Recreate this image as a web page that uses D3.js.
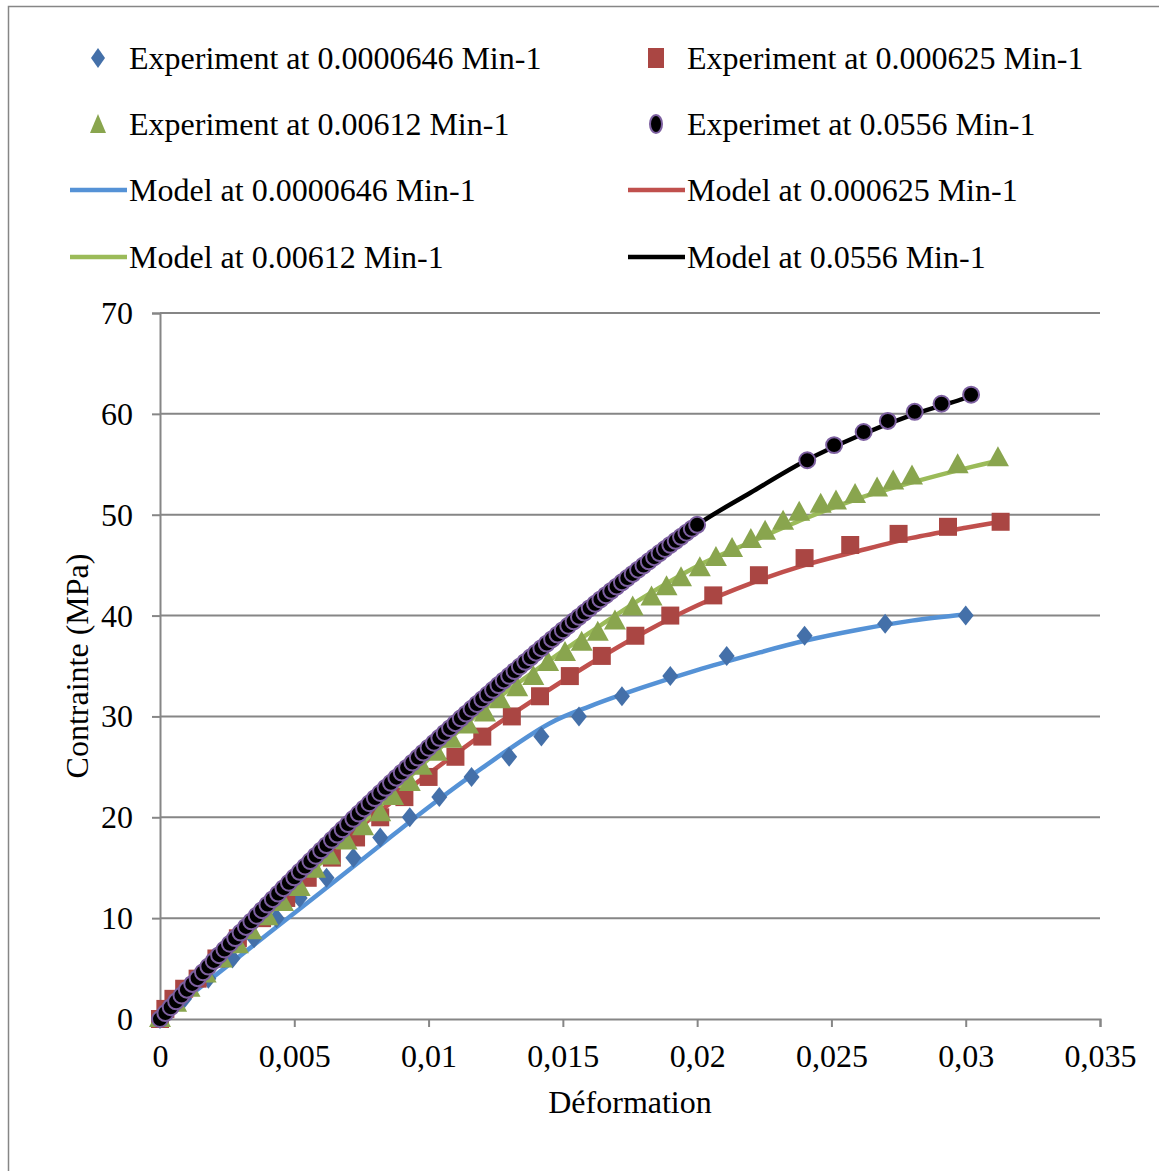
<!DOCTYPE html>
<html><head><meta charset="utf-8">
<script src="https://cdn.jsdelivr.net/npm/d3@7"></script>
<style>
html,body{margin:0;padding:0;background:#fff;}
text{font-family:"Liberation Serif","Times New Roman",serif;fill:#000;}
</style></head>
<body><svg id="c" width="1159" height="1171"></svg>
<script>
// ---------- data ----------
const xTicks = [0,0.005,0.01,0.015,0.02,0.025,0.03,0.035];
const xTickLabels = ["0","0,005","0,01","0,015","0,02","0,025","0,03","0,035"];
const yTicks = [0,10,20,30,40,50,60,70];
const yTickLabels = ["0","10","20","30","40","50","60","70"];

// Experiment at 0.0000646 Min-1
const exp1Strain = [0,0.0009,0.0018,0.0027,0.0035,0.00434,0.0052,0.0062,0.0072,0.0082,0.0093,0.0104,0.0116,0.013,0.0142,0.0156,0.0172,0.019,0.0211,0.024,0.027,0.030];
const exp1Stress = [0,2,4,6,8,10,12,14,16,18,20,22,24,26,28,30,32,34,36,38,39.2,40];
// Experiment at 0.000625 Min-1
const exp2Strain = [0,0.0002,0.0005,0.0009,0.0014,0.0021,0.0029,0.0038,0.0047,0.0055,0.0064,0.0073,0.0082,0.0091,0.01,0.011,0.012,0.0131,0.01415,0.01526,0.01645,0.0177,0.019,0.0206,0.0223,0.024,0.0257,0.0275,0.02934,0.0313];
const exp2Stress = [0,1,2,3,4,6,8,10,12,14,16,18,20,22,24,26,28,30,32,34,36,38,40,42,44,45.7,47.0,48.1,48.8,49.3];
// Experiment at 0.00612 Min-1
const exp3Strain = [0,0.0006,0.0011,0.0017,0.0023,0.0029,0.0034,0.0040,0.00458,0.0052,0.00577,0.00633,0.00695,0.00756,0.0082,0.00868,0.0093,0.00974,0.0103,0.01086,0.01147,0.0121,0.01266,0.0133,0.0139,0.01445,0.01508,0.0157,0.0163,0.01694,0.0176,0.0183,0.01886,0.0194,0.0201,0.0207,0.0213,0.0220,0.02253,0.0232,0.0238,0.0246,0.02517,0.02588,0.0267,0.0273,0.0280,0.0297,0.0312];
const exp3Stress = [0,1.5,3.0,4.4,5.9,7.3,8.7,10.1,11.5,13.0,14.8,16.1,17.6,19.0,20.4,22.0,23.4,25.0,26.4,27.7,29.1,30.3,31.6,32.8,33.9,35.3,36.3,37.3,38.3,39.4,40.8,41.8,42.8,43.7,44.7,45.7,46.6,47.5,48.3,49.3,50.2,51.0,51.3,51.95,52.6,53.3,53.8,54.9,55.6];
// Experimet at 0.0556 Min-1
const exp4Strain = [0,0.0002,0.0004,0.0006,0.0008,0.001,0.0012,0.0014,0.0016,0.0018,0.002,0.0022,0.0024,0.0026,0.0028,0.003,0.0032,0.0034,0.0036,0.0038,0.004,0.0042,0.0044,0.0046,0.0048,0.005,0.0052,0.0054,0.0056,0.0058,0.006,0.0062,0.0064,0.0066,0.0068,0.007,0.0072,0.0074,0.0076,0.0078,0.008,0.0082,0.0084,0.0086,0.0088,0.009,0.0092,0.0094,0.0096,0.0098,0.01,0.0102,0.0104,0.0106,0.0108,0.011,0.0112,0.0114,0.0116,0.0118,0.012,0.0122,0.0124,0.0126,0.0128,0.013,0.0132,0.0134,0.0136,0.0138,0.014,0.0142,0.0144,0.0146,0.0148,0.015,0.0152,0.0154,0.0156,0.0158,0.016,0.0162,0.0164,0.0166,0.0168,0.017,0.0172,0.0174,0.0176,0.0178,0.018,0.0182,0.0184,0.0186,0.0188,0.019,0.0192,0.0194,0.0196,0.0198,0.020,0.0241,0.0251,0.0262,0.0271,0.0281,0.0291,0.0302];
const exp4Stress = [0,0.59,1.17,1.75,2.33,2.91,3.48,4.05,4.63,5.20,5.76,6.33,6.89,7.46,8.02,8.57,9.13,9.68,10.24,10.79,11.34,11.88,12.43,12.97,13.51,14.05,14.59,15.12,15.66,16.19,16.72,17.24,17.77,18.29,18.81,19.33,19.85,20.37,20.88,21.39,21.90,22.41,22.92,23.42,23.93,24.43,24.92,25.42,25.92,26.41,26.90,27.39,27.88,28.36,28.84,29.33,29.81,30.28,30.76,31.23,31.70,32.17,32.64,33.11,33.57,34.03,34.49,34.95,35.41,35.86,36.32,36.77,37.22,37.66,38.11,38.55,38.99,39.43,39.87,40.30,40.74,41.17,41.60,42.02,42.45,42.87,43.30,43.72,44.13,44.55,44.96,45.38,45.79,46.20,46.60,47.01,47.41,47.81,48.21,48.61,49.0,55.4,56.9,58.2,59.3,60.2,61.0,61.9];

// Models
const mod1Strain = [0,0.002,0.004,0.006,0.008,0.010,0.012,0.0145,0.016,0.018,0.020,0.022,0.024,0.026,0.028,0.030];
const mod1Stress = [0,4.2,8.4,12.6,16.8,21.0,24.9,29.3,31.0,32.9,34.6,36.1,37.5,38.6,39.5,40.1];
const mod2Strain = [0,0.002,0.004,0.006,0.008,0.010,0.012,0.014,0.016,0.018,0.020,0.022,0.024,0.026,0.028,0.030,0.0313];
const mod2Stress = [0,5.5,10.8,15.8,20.2,24.3,28.2,31.8,35.2,38.3,41.0,43.2,45.0,46.4,47.7,48.7,49.3];
const mod3Strain = [0,0.002,0.004,0.006,0.008,0.010,0.012,0.014,0.016,0.018,0.020,0.022,0.024,0.026,0.028,0.030,0.0313];
const mod3Stress = [0,5.1,10.3,15.5,20.6,25.8,30.6,34.6,38.3,41.8,44.9,47.3,49.6,51.6,53.2,54.6,55.4];
const mod4Strain = [0,0.002,0.004,0.006,0.008,0.010,0.012,0.014,0.016,0.018,0.020,0.022,0.024,0.026,0.028,0.030,0.0302];
const mod4Stress = [0,5.8,11.3,16.7,21.9,26.9,31.7,36.3,40.7,44.9,49.0,52.2,55.3,57.8,59.9,61.6,61.9];

const legendLabels = ["Experiment at 0.0000646 Min-1","Experiment at 0.000625 Min-1","Experiment at 0.00612 Min-1","Experimet at 0.0556 Min-1","Model at 0.0000646 Min-1","Model at 0.000625 Min-1","Model at 0.00612 Min-1","Model at 0.0556 Min-1"];

// ---------- drawing ----------
const FS = 32;
const svg = d3.select("#c");
const x = d3.scaleLinear().domain([0,0.035]).range([160,1100]);
const y = d3.scaleLinear().domain([0,70]).range([1019,313]);
const grey = "#868686";

svg.append("rect").attr("x",8.5).attr("y",6.5).attr("width",1160).attr("height",1170)
  .attr("fill","none").attr("stroke",grey).attr("stroke-width",1.5);

// gridlines
svg.append("g").selectAll("line").data(yTicks.slice(1)).join("line")
  .attr("x1",160).attr("x2",1100).attr("y1",d=>y(d)).attr("y2",d=>y(d))
  .attr("stroke",grey).attr("stroke-width",2);

// axes
const yAxis = d3.axisLeft(y).tickValues(yTicks).tickFormat((d,i)=>yTickLabels[i]).tickSize(8).tickPadding(19);
const gy = svg.append("g").attr("transform","translate(160,0)").call(yAxis);
const xAxis = d3.axisBottom(x).tickValues(xTicks).tickFormat((d,i)=>xTickLabels[i]).tickSize(8).tickPadding(10);
const gx = svg.append("g").attr("transform","translate(0,1019)").call(xAxis);
[gx,gy].forEach(g=>{
  g.select(".domain").attr("stroke",grey).attr("stroke-width",2);
  g.selectAll(".tick line").attr("stroke",grey).attr("stroke-width",2);
  g.selectAll(".tick text").attr("font-family","Liberation Serif").attr("font-size",FS).attr("fill","#000");
});
gy.selectAll(".tick text").attr("dy","0.33em");
gx.selectAll(".tick text").attr("dy","0.95em");

svg.append("text").attr("x",630).attr("y",1113).attr("text-anchor","middle").attr("font-size",FS).text("Déformation");
svg.append("text").attr("transform","translate(88,666) rotate(-90)").attr("text-anchor","middle").attr("font-size",FS).text("Contrainte (MPa)");

const line = d3.line().x(d=>x(d[0])).y(d=>y(d[1])).curve(d3.curveCatmullRom.alpha(0.5));
const zip = (a,b)=>a.map((v,i)=>[v,b[i]]);
const models = [
  {d:zip(mod1Strain,mod1Stress),c:"#5592D6"},
  {d:zip(mod2Strain,mod2Stress),c:"#C0504D"},
  {d:zip(mod3Strain,mod3Stress),c:"#9BBB59"},
  {d:zip(mod4Strain,mod4Stress),c:"#000000"}
];
models.forEach(m=>svg.append("path").attr("d",line(m.d)).attr("fill","none").attr("stroke",m.c).attr("stroke-width",4.5).attr("stroke-linejoin","round"));

const sym = (type,size)=>d3.symbol().type(type).size(size)();
const diamond = "M0,-10L8,0L0,10L-8,0Z";
const series = [
  {d:zip(exp1Strain,exp1Stress),p:diamond,f:"#4470A9",s:"none"},
  {d:zip(exp2Strain,exp2Stress),p:sym(d3.symbolSquare,324),f:"#AA4643",s:"none"},
  {d:zip(exp3Strain,exp3Stress),p:"M0,-12L11,8L-11,8Z",f:"#89A54E",s:"none"},
  {d:zip(exp4Strain,exp4Stress),p:sym(d3.symbolCircle,200),f:"#000000",s:"#7D60A0"}
];
series.forEach(se=>{
  svg.append("g").selectAll("path").data(se.d).join("path")
    .attr("transform",d=>`translate(${x(d[0])},${y(d[1])})`)
    .attr("d",se.p).attr("fill",se.f).attr("stroke",se.s).attr("stroke-width",2);
});

// legend
const lg = svg.append("g");
const rows = [58,124,190,257];
const cols = [{m:98,t:129},{m:656,t:687}];
legendLabels.forEach((lab,i)=>{
  const r = rows[Math.floor(i/2)], c = cols[i%2];
  if(i<4){
    const se = series[i];
    let p = se.p;
    if(i===1) p = "M-8,-10L8,-10L8,10L-8,10Z";
    if(i===2) p = "M0,-10L8,9L-8,9Z";
    if(i===3) p = "M0,-9A6,9 0 1,1 0,9A6,9 0 1,1 0,-9Z";
    if(i===0) p = "M0,-10L7,0L0,10L-7,0Z";
    lg.append("path").attr("transform",`translate(${c.m},${r})`).attr("d",p).attr("fill",se.f).attr("stroke",se.s).attr("stroke-width",2);
  } else {
    lg.append("line").attr("x1",c.m-28).attr("x2",c.m+29).attr("y1",r).attr("y2",r)
      .attr("stroke",models[i-4].c).attr("stroke-width",4.5);
  }
  lg.append("text").attr("x",c.t).attr("y",r).attr("dy","0.33em").attr("font-size",FS).text(lab);
});
</script></body></html>
